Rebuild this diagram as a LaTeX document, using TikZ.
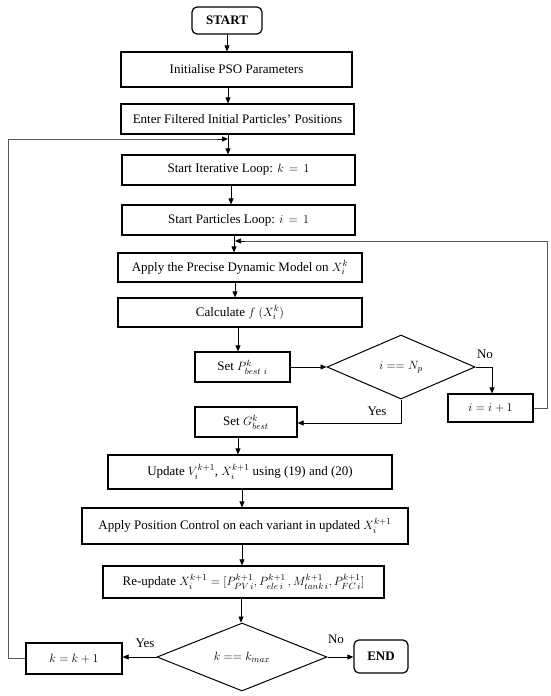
\documentclass[tikz,border=0pt]{standalone}
\usepackage{fontspec}
\setmainfont{Liberation Serif}
\usetikzlibrary{arrows.meta,shapes.geometric,calc}
\begin{document}
\begin{tikzpicture}[x=1pt,y=1pt,
  box/.style={draw=black,line width=1.2pt,minimum width=#1,inner sep=0pt,font=\fontsize{13}{15}\selectfont},
  term/.style={draw=black,line width=1.2pt,rounded corners=5pt,inner sep=0pt,font=\bfseries\fontsize{13}{15}\selectfont},
  dec/.style={draw=black,line width=1pt,diamond,inner sep=0pt,font=\fontsize{13}{15}\selectfont},
  arr/.style={draw=black,line width=0.7pt,-{Triangle[length=6pt,width=5pt]}},
  loopline/.style={draw=black!65,line width=0.8pt},
  lbl/.style={font=\fontsize{13}{15}\selectfont,inner sep=0pt}]
\useasboundingbox (0,0) rectangle (550,-696);
\fill[white] (0,0) rectangle (550,-696);

\node[term,minimum width=70pt,minimum height=27pt] (start) at (227,-20.5) {START};
\node[box=231pt,minimum height=35pt] (init) at (236.5,-69.5) {Initialise PSO Parameters};
\node[box=233pt,minimum height=30pt] (enter) at (237.5,-119) {Enter Filtered Initial Particles' Positions};
\node[box=233pt,minimum height=30pt] (iter) at (238.5,-170) {Start Iterative Loop: $k\,=\,1$};
\node[box=233pt,minimum height=30pt] (part) at (238.5,-220) {Start Particles Loop: $i\,=\,1$};
\node[box=244pt,minimum height=29pt] (apply) at (240,-267.5) {Apply the Precise Dynamic Model on $X_i^k$};
\node[box=244pt,minimum height=29pt] (calc) at (240,-312.5) {Calculate $f\ (X_i^k)$};
\node[box=95pt,minimum height=30pt] (setp) at (242.5,-367) {Set $P^k_{best\ i}$};
\node[dec,minimum width=148pt,minimum height=64pt] (dia1) at (401,-367) {$i \mathrel{==} N_p$};
\node[box=85pt,minimum height=28pt] (inc) at (490.5,-408) {$i = i + 1$};
\node[box=102pt,minimum height=30pt] (setg) at (246,-422) {Set $G^k_{best}$};
\node[box=284pt,minimum height=34pt] (update) at (250,-472) {Update $V_i^{k+1}$, $X_i^{k+1}$ using (19) and (20)};
\node[box=326pt,minimum height=36pt] (posctl) at (245,-526) {Apply Position Control on each variant in updated $X_i^{k+1}$};
\node[box=281pt,minimum height=32pt] (reupd) at (243.5,-582) {Re-update $X_i^{k+1} = [P^{k+1}_{PV\,i}, P^{k+1}_{ele\,i}\,, M^{k+1}_{tank\,i}, P^{k+1}_{FC\,i}]$};
\node[dec,minimum width=170pt,minimum height=68pt] (dia2) at (242,-657) {$k \mathrel{==} k_{max}$};
\node[box=96pt,minimum height=31pt] (kinc) at (74,-658.5) {$k = k + 1$};
\node[term,minimum width=54pt,minimum height=33pt] (end) at (381,-656.5) {END};

% main arrows
\draw[arr] (start.south) -- (start.south |- init.north);
\draw[arr] (init.south -| 228,0) -- (enter.north -| 228,0);
\draw[arr] (enter.south -| 228,0) -- (iter.north -| 228,0);
\draw[arr] (iter.south -| 231,0) -- (part.north -| 231,0);
\draw[arr] (part.south -| 234,0) -- (apply.north -| 234,0);
\draw[arr] (apply.south -| 235,0) -- (calc.north -| 235,0);
\draw[arr] (calc.south -| 238,0) -- (setp.north -| 238,0);
\draw[arr] (setp.east) -- (dia1.west);
\draw[arr] (dia1.east) -| (inc.north -| 492,0);
\draw[arr] (dia1.south) |- (setg.east |- 0,-423);
\draw[arr] (setg.south -| 238,0) -- (update.north -| 238,0);
\draw[arr] (update.south -| 242,0) -- (posctl.north -| 242,0);
\draw[arr] (posctl.south -| 242,0) -- (reupd.north -| 242,0);
\draw[arr] (reupd.south -| 241,0) -- (dia2.north -| 241,0);
\draw[arr] (dia2.west) -- (kinc.east |- dia2.west);
\draw[arr] (dia2.east) -- (end.west |- dia2.east);

% loops
\coordinate (jk) at (228,-139);
\coordinate (ji) at (235,-241);
\draw[loopline] (kinc.west) -- (8,-658.5) -- (8,-139) -- (218,-139);
\draw[arr] (218,-139) -- (jk);
\draw[loopline] (inc.east) -- (547,-408) -- (547,-241) -- (245,-241);
\draw[arr] (245,-241) -- (ji);

% labels
\node[lbl] (no1) at (485,-354) {No};
\node[lbl] (yes1) at (377,-411) {Yes};
\node[lbl] (yes2) at (145,-643) {Yes};
\node[lbl] (no2) at (336,-639) {No};
\end{tikzpicture}
\end{document}
